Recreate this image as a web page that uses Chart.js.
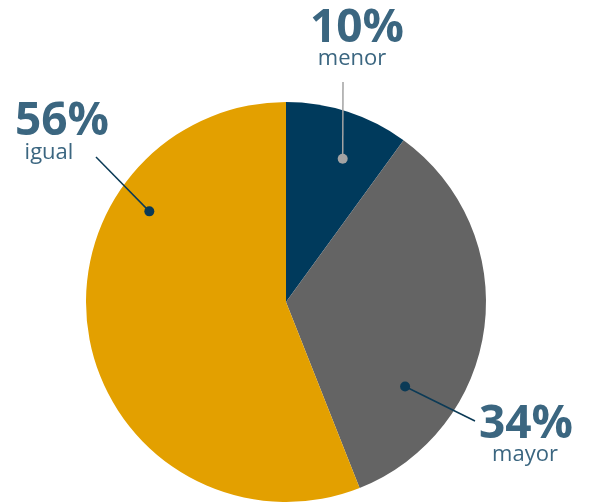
<!DOCTYPE html>
<html>
<head>
<meta charset="utf-8">
<script src="https://cdn.jsdelivr.net/npm/chart.js@4/dist/chart.umd.min.js"></script>
<style>
  html, body { margin: 0; padding: 0; background: #ffffff; }
  #wrap { width: 590px; height: 502px; }
</style>
</head>
<body>
<div id="wrap"><canvas id="pie-chart" width="590" height="502"></canvas></div>
<script>
// data
const categories = ["menor", "mayor", "igual"];
const shares = [10, 34, 56];
const sliceColors = ["#003a5c", "#646464", "#e3a000"];

// callout placement, relative to pie centre (dot = fraction along slice angle / radius)
const callouts = [
  { along: 0.6, radius: 0.77, lineEnd: [57, -220], pct: [71, -260], name: [66, -237], dot: "#a3a3a3", line: "#a3a3a3" },
  { along: 0.73, radius: 0.73, lineEnd: [189, 119], pct: [240, 136], name: [239, 159], dot: "#0b3a56", line: "#0b3a56" },
  { along: 0.72, radius: 0.82, lineEnd: [-190, -145], pct: [-224, -167], name: [-237, -143], dot: "#0b3a56", line: "#0b3a56" }
];
const textColor = "#3b6680";

const calloutPlugin = {
  id: "callouts",
  afterDatasetsDraw(chart) {
    const c = chart.ctx;
    const meta = chart.getDatasetMeta(0);
    meta.data.forEach((arc, i) => {
      const s = callouts[i];
      const p = arc.getProps(["x", "y", "startAngle", "endAngle", "outerRadius"], true);
      const a = p.startAngle + (p.endAngle - p.startAngle) * s.along;
      const dx = p.x + Math.cos(a) * p.outerRadius * s.radius;
      const dy = p.y + Math.sin(a) * p.outerRadius * s.radius;
      c.save();
      // leader line + dot
      c.strokeStyle = s.line;
      c.lineWidth = 1.5;
      c.beginPath();
      c.moveTo(dx, dy);
      c.lineTo(p.x + s.lineEnd[0], p.y + s.lineEnd[1]);
      c.stroke();
      c.fillStyle = s.dot;
      c.beginPath();
      c.arc(dx, dy, 5, 0, Math.PI * 2);
      c.fill();
      // labels
      c.fillStyle = textColor;
      c.textAlign = "center";
      c.textBaseline = "alphabetic";
      c.font = "bold 46px 'Open Sans'";
      c.fillText(shares[i] + "%", p.x + s.pct[0], p.y + s.pct[1]);
      c.font = "22px 'Open Sans'";
      c.fillText(categories[i], p.x + s.name[0], p.y + s.name[1]);
      c.restore();
    });
  }
};

new Chart(document.getElementById("pie-chart"), {
  type: "pie",
  data: {
    labels: categories,
    datasets: [
      {
        data: shares,
        backgroundColor: sliceColors,
        borderWidth: 0,
      },
    ],
  },
  options: {
    responsive: false,
    animation: false,
    layout: { padding: { left: 86, right: 104, top: 102, bottom: 0 } },
    plugins: {
      legend: { display: false },
      tooltip: { enabled: false },
    },
  },
  plugins: [calloutPlugin],
});
</script>
</body>
</html>
